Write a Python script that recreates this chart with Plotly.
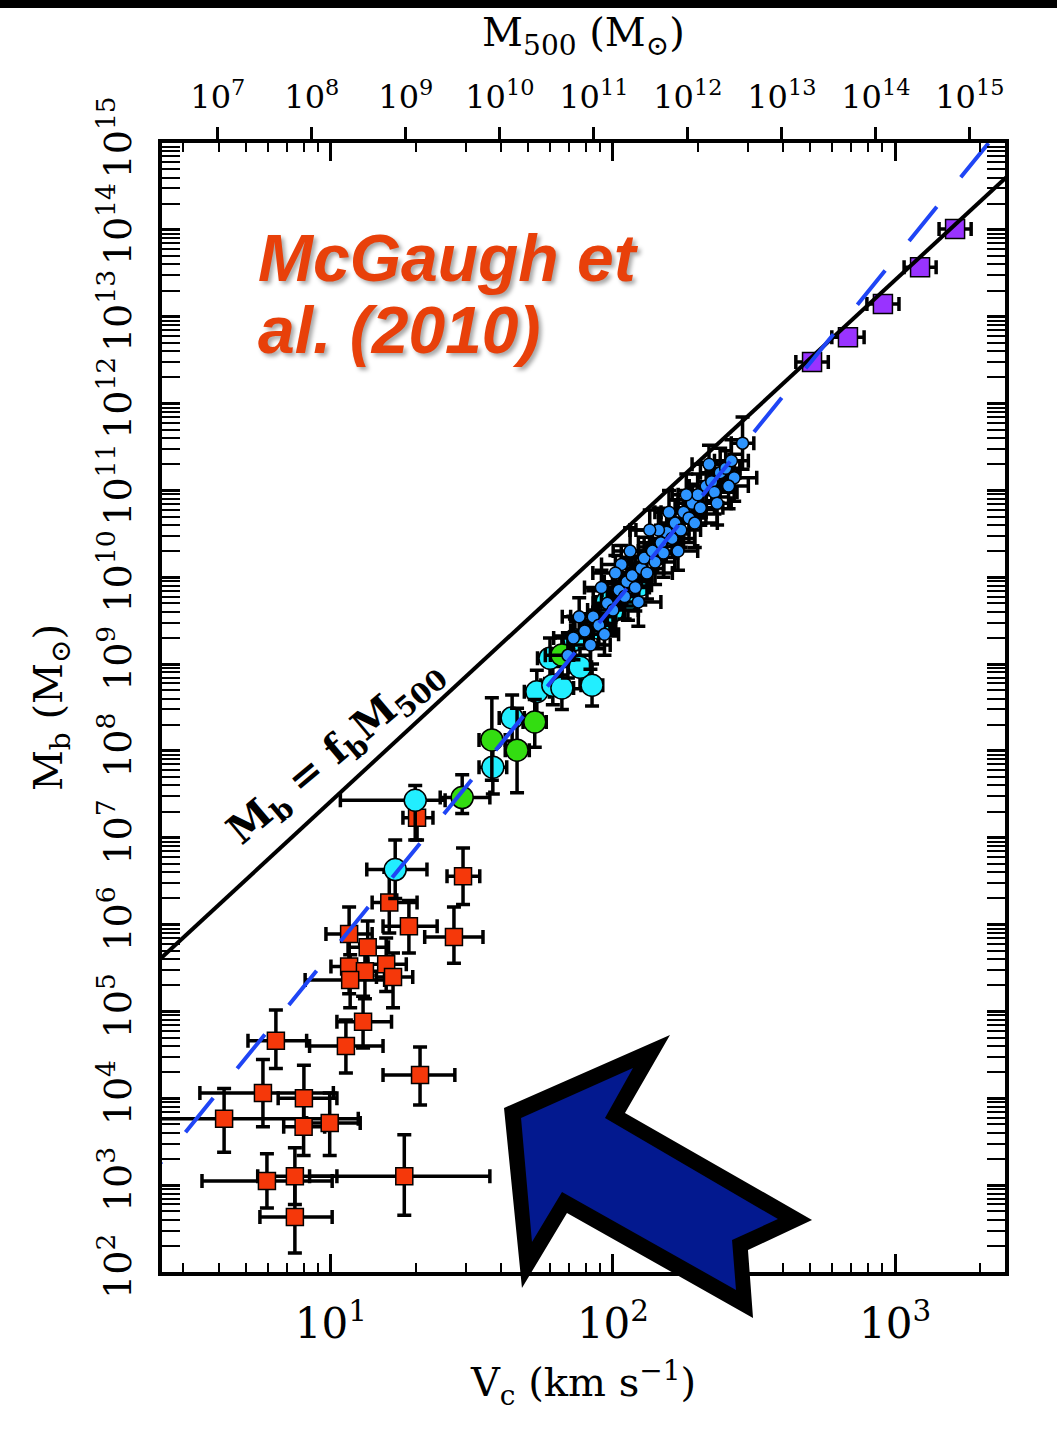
import plotly.graph_objects as go

# ---------------------------------------------------------------------------
# Baryonic mass vs. circular velocity (McGaugh et al. 2010)
# ---------------------------------------------------------------------------

# Model lines
FB = 0.17            # cosmic baryon fraction
M500_NORM = 1.55e5   # M500 = M500_NORM * Vc^3   (Msun, km/s)
BTFR_NORM = 47.0     # Mb = BTFR_NORM * Vc^4
LINE_V = [2.0, 3000.0]

# Dwarf spheroidals (red squares)
dsph_v = [20.2, 29.4, 16.1, 18.9, 27.3, 11.6, 13.5, 11.6, 13.2, 15.7, 16.6, 11.7, 13.0,
          6.38, 11.3, 20.7, 5.74, 8.02, 4.18, 8.0, 9.9, 5.93, 7.45, 18.2, 7.45]
dsph_v_lo = [18.0, 25.8, 14.0, 15.3, 21.5, 9.6, 11.5, 10.0, 11.5, 13.5, 14.5, 8.1, 10.5,
             5.08, 8.4, 15.3, 3.43, 6.5, 2.0, 6.8, 8.2, 3.49, 5.5, 8.4, 5.6]
dsph_v_hi = [23.0, 33.7, 20.2, 23.8, 34.6, 14.0, 16.0, 13.5, 15.5, 18.5, 19.5, 15.5, 16.4,
             8.2, 15.3, 27.5, 10.2, 10.5, 12.5, 9.5, 12.7, 10.1, 10.5, 36.6, 10.1]
dsph_m = [1.7e7, 3.6e6, 1.8e6, 9.6e5, 7.2e5, 7.8e5, 5.5e5, 3.3e5, 2.9e5, 3.5e5, 2.5e5, 2.3e5,
          7.6e4, 4.6e4, 4.0e4, 1.85e4, 1.15e4, 1.0e4, 5.8e3, 4.7e3, 5.2e3, 1.12e3, 1.27e3,
          1.27e3, 430]
dsph_m_lo = [9.4e6, 1.7e6, 8.0e5, 4.7e5, 3.6e5, 3.8e5, 2.6e5, 1.6e5, 1.4e5, 1.7e5, 1.1e5,
             1.1e5, 3.8e4, 2.2e4, 1.95e4, 8.4e3, 4.7e3, 5.0e3, 2.4e3, 2.2e3, 2.2e3, 545, 600,
             450, 166]
dsph_m_hi = [3.0e7, 7.6e6, 4.0e6, 1.9e6, 1.6e6, 1.6e6, 1.1e6, 6.5e5, 6.0e5, 7.0e5, 4.7e5,
             4.5e5, 1.5e5, 1.04e5, 8.0e4, 3.9e4, 2.8e4, 2.4e4, 1.3e4, 1.0e4, 1.15e4, 2.3e3,
             2.7e3, 3.8e3, 1.2e3]

# Gas-rich disks (cyan circles)
gas_v = [19.9, 16.9, 37.5, 43.9, 53.7, 61.2, 65.9, 84.3, 59.8, 76.4, 95.3, 73.3, 88.5,
         99.1, 113.0, 125.0]
gas_v_lo = [10.8, 13.4, 33.5, 39.5, 48.5, 55.5, 60.0, 77.0, 54.0, 69.5, 87.0, 66.5, 80.5,
            90.0, 103.0, 114.0]
gas_v_hi = [25.4, 21.9, 42.0, 48.5, 59.5, 67.5, 72.5, 92.0, 66.0, 84.0, 104.0, 80.5, 97.0,
            109.0, 124.0, 137.0]
gas_m = [2.7e7, 4.3e6, 6.5e7, 2.4e8, 4.8e8, 5.7e8, 5.3e8, 5.7e8, 1.17e9, 9.2e8, 5.2e9,
         1.9e9, 2.6e9, 4.0e9, 5.5e9, 8.1e9]
gas_m_lo = [9.4e6, 2.0e6, 3.2e7, 1.3e8, 2.7e8, 3.4e8, 3.0e8, 3.3e8, 6.8e8, 5.2e8, 3.0e9,
            1.1e9, 1.5e9, 2.3e9, 3.2e9, 4.8e9]
gas_m_hi = [4.0e7, 9.4e6, 1.2e8, 4.4e8, 8.5e8, 9.8e8, 9.4e8, 1.0e9, 2.0e9, 1.6e9, 8.9e9,
            3.3e9, 4.5e9, 6.9e9, 9.5e9, 1.4e10]

# Gas-rich disks, second sample (green circles)
grn_v = [29.2, 37.2, 52.8, 45.7, 65.9]
grn_v_lo = [24.4, 33.5, 48.0, 41.5, 60.0]
grn_v_hi = [36.6, 41.5, 58.0, 50.5, 72.5]
grn_m = [2.9e7, 1.34e8, 2.15e8, 1.02e8, 1.27e9]
grn_m_lo = [1.9e7, 4.6e7, 1.1e8, 3.3e7, 7.5e8]
grn_m_hi = [5.3e7, 4.1e8, 3.9e8, 3.1e8, 2.1e9]

# Star-dominated spirals (blue circles); uncertainties in dex
star_v = [72.4, 79.4, 85.1, 89.1, 95.5, 100.0, 105.0, 110.0, 112.0, 117.0, 120.0, 126.0,
          129.0, 132.0, 138.0, 141.0, 148.0, 151.0, 155.0, 162.0, 166.0, 174.0, 178.0,
          186.0, 191.0, 200.0, 204.0, 214.0, 224.0, 229.0, 240.0, 251.0, 263.0, 269.0,
          288.0, 107.0, 145.0, 91.0, 182.0, 123.0, 170.0, 234.0,
          69.2, 75.9, 83.2, 93.3, 102.0, 115.0, 135.0, 158.0, 195.0, 219.0, 257.0]
star_m = [2.0e9, 2.4e9, 3.5e9, 2.8e9, 5.0e9, 4.2e9, 7.1e9, 6.0e9, 8.9e9, 1.05e10, 7.6e9,
          1.26e10, 1.66e10, 1.12e10, 2.0e10, 1.5e10, 2.5e10, 1.9e10, 3.3e10, 2.8e10, 4.2e10,
          3.5e10, 5.6e10, 4.8e10, 7.1e10, 8.9e10, 6.3e10, 1.12e11, 1.26e11, 9.5e10, 1.6e11,
          1.8e11, 2.2e11, 1.4e11, 3.5e11, 1.4e10, 3.5e10, 7.6e9, 8.9e10, 5.2e9, 2.0e10,
          7.1e10,
          1.26e9, 3.5e9, 1.66e9, 2.2e9, 1.12e10, 2.0e10, 3.5e10, 5.6e10, 4.2e10, 2.0e11,
          1.12e11]
star_v_dex = [0.07, 0.05, 0.08, 0.06, 0.05, 0.09, 0.06, 0.05, 0.08, 0.07, 0.05, 0.08, 0.06,
              0.09, 0.05, 0.07, 0.08, 0.05, 0.06, 0.08, 0.05, 0.07, 0.08, 0.06, 0.05, 0.07,
              0.08, 0.06, 0.05, 0.08, 0.07, 0.05, 0.06, 0.08, 0.04, 0.07, 0.08, 0.06, 0.05,
              0.08, 0.07, 0.05,
              0.08, 0.06, 0.07, 0.05, 0.08, 0.06, 0.07, 0.05, 0.08, 0.06, 0.07]
star_m_dex = [0.25, 0.2, 0.3, 0.22, 0.24, 0.3, 0.2, 0.26, 0.28, 0.22, 0.27, 0.2, 0.24,
              0.3, 0.22, 0.26, 0.2, 0.28, 0.24, 0.22, 0.27, 0.2, 0.25, 0.28, 0.22, 0.24,
              0.2, 0.27, 0.22, 0.25, 0.28, 0.2, 0.24, 0.27, 0.3, 0.22, 0.25, 0.2, 0.24,
              0.28, 0.22, 0.25,
              0.26, 0.22, 0.28, 0.24, 0.2, 0.27, 0.23, 0.25, 0.28, 0.22, 0.26]

# Galaxy clusters (purple squares)
clus_v = [508.0, 681.0, 906.0, 1227.0, 1633.0]
clus_v_lo = [445.0, 597.0, 795.0, 1077.0, 1433.0]
clus_v_hi = [580.0, 777.0, 1033.0, 1399.0, 1862.0]
clus_m = [3.0e12, 5.8e12, 1.4e13, 3.7e13, 1.02e14]

# Tick labels
x_tickvals = [10, 100, 1000]
x_ticktext = ["10<sup>1</sup>", "10<sup>2</sup>", "10<sup>3</sup>"]
y_exps = list(range(2, 16))
top_exps = list(range(7, 16))

# ---------------------------------------------------------------------------
SERIF = "DejaVu Serif"
W, H = 1057, 1430
ML, MR, MT, MB = 162, 52, 143, 158


def minor_vals(lo_exp, hi_exp):
    return [k * 10 ** e for e in range(lo_exp, hi_exp + 1) for k in range(2, 10)]


def err_bars(center, lo, hi):
    plus = [h - c for c, h in zip(center, hi)]
    minus = [c - l for c, l in zip(center, lo)]
    return dict(type="data", symmetric=False, array=plus, arrayminus=minus,
                color="black", thickness=3.5, width=7)


def points(x, xlo, xhi, y, ylo, yhi, color, symbol, size, name):
    tr = dict(x=x, y=y, mode="markers", name=name, showlegend=False,
              marker=dict(color=color, symbol=symbol, size=size,
                          line=dict(color="black", width=1.5)),
              error_x=err_bars(x, xlo, xhi))
    if ylo is not None:
        tr["error_y"] = err_bars(y, ylo, yhi)
    return go.Scatter(**tr)


fig = go.Figure()

fig.add_trace(points(dsph_v, dsph_v_lo, dsph_v_hi, dsph_m, dsph_m_lo, dsph_m_hi,
                     "#F5380A", "square", 17, "dSph"))
fig.add_trace(points(gas_v, gas_v_lo, gas_v_hi, gas_m, gas_m_lo, gas_m_hi,
                     "#22EEFF", "circle", 22, "gas rich"))
fig.add_trace(points(grn_v, grn_v_lo, grn_v_hi, grn_m, grn_m_lo, grn_m_hi,
                     "#33DD11", "circle", 22, "gas rich (2)"))

star_v_lo = [v / 10 ** d for v, d in zip(star_v, star_v_dex)]
star_v_hi = [v * 10 ** d for v, d in zip(star_v, star_v_dex)]
star_m_lo = [m / 10 ** d for m, d in zip(star_m, star_m_dex)]
star_m_hi = [m * 10 ** d for m, d in zip(star_m, star_m_dex)]
fig.add_trace(points(star_v, star_v_lo, star_v_hi, star_m, star_m_lo, star_m_hi,
                     "#2E95FF", "circle", 12, "star dominated"))

fig.add_trace(points(clus_v, clus_v_lo, clus_v_hi, clus_m, None, None,
                     "#9933FF", "square", 19, "clusters"))

# Mb = fb * M500 and the baryonic Tully-Fisher relation
fb_line = [FB * M500_NORM * v ** 3 for v in LINE_V]
btfr_line = [BTFR_NORM * v ** 4 for v in LINE_V]
fig.add_trace(go.Scatter(x=LINE_V, y=fb_line, mode="lines", showlegend=False,
                         line=dict(color="black", width=4), hoverinfo="skip"))
fig.add_trace(go.Scatter(x=LINE_V, y=btfr_line, mode="lines", showlegend=False,
                         line=dict(color="#1F45F5", width=4, dash="44px,38px"),
                         hoverinfo="skip"))

# invisible anchor for the M500 axis
fig.add_trace(go.Scatter(x=[1e10], y=[1e8], xaxis="x2", mode="markers",
                         marker=dict(opacity=0), showlegend=False, hoverinfo="skip"))

lv_lo, lv_hi = 0.401, 3.390
log_norm = 5.204

axis_common = dict(
    type="log", showgrid=False, zeroline=False,
    showline=True, linecolor="black", linewidth=4,
    ticks="inside", ticklen=18, tickwidth=3, tickcolor="black",
)

fig.update_layout(
    width=W, height=H,
    margin=dict(l=ML, r=MR, t=MT, b=MB, pad=0),
    paper_bgcolor="white", plot_bgcolor="white",
    showlegend=False,
    xaxis=dict(
        **axis_common,
        range=[lv_lo, lv_hi], mirror="allticks",
        tickmode="array", tickvals=x_tickvals, ticktext=x_ticktext,
        tickfont=dict(family=SERIF, size=42, color="black"),
        ticklabelstandoff=12,
        minor=dict(ticks="inside", ticklen=9, tickwidth=2, tickcolor="black",
                   tickvals=minor_vals(0, 3)),
        title=dict(text="V<sub>c</sub> (km s<sup>−1</sup>)",
                   font=dict(family=SERIF, size=40, color="black"), standoff=22),
    ),
    xaxis2=dict(
        type="log", overlaying="x", side="top", anchor="y",
        range=[log_norm + 3 * lv_lo, log_norm + 3 * lv_hi],
        showgrid=False, zeroline=False, showline=False,
        ticks="outside", ticklen=15, tickwidth=3, tickcolor="black",
        tickmode="array", tickvals=[10 ** e for e in top_exps],
        ticktext=[f"10<sup>{e}</sup>" for e in top_exps],
        tickfont=dict(family=SERIF, size=32, color="black"),
        ticklabelstandoff=6,
        title=dict(text="M<sub>500</sub> (M<sub>⊙</sub>)",
                   font=dict(family=SERIF, size=40, color="black"), standoff=14),
    ),
    yaxis=dict(
        **axis_common,
        range=[2, 15], mirror="allticks",
        tickmode="array", tickvals=[10 ** e for e in y_exps],
        ticktext=[f"10<sup>{e}</sup>" for e in y_exps],
        tickfont=dict(family=SERIF, size=38, color="black"),
        tickangle=-90, ticklabelstandoff=12,
        minor=dict(ticks="inside", ticklen=9, tickwidth=2, tickcolor="black",
                   tickvals=minor_vals(2, 14)),
        title=dict(text="M<sub>b</sub> (M<sub>⊙</sub>)",
                   font=dict(family=SERIF, size=40, color="black"), standoff=16),
    ),
)


def px(x):
    return (x - ML) / (W - ML - MR)


def py(y):
    return (H - MB - y) / (H - MT - MB)


def poly(pts):
    return "M " + " L ".join(f"{px(x):.4f},{py(y):.4f}" for x, y in pts) + " Z"


arrow_outer = [(504, 1108), (522, 1288), (567, 1213), (753, 1318), (748, 1250),
               (812, 1220), (625, 1113), (670, 1035)]
arrow_inner = [(521, 1118), (532, 1242), (562, 1192), (736, 1290), (732, 1240),
               (778, 1219), (605, 1118), (633, 1068)]

fig.add_shape(type="rect", xref="paper", yref="paper", x0=px(0), x1=px(W),
              y0=py(8), y1=py(0), fillcolor="black", line_width=0, layer="above")
fig.add_shape(type="path", xref="paper", yref="paper", path=poly(arrow_outer),
              fillcolor="black", line_width=0, layer="above")
fig.add_shape(type="path", xref="paper", yref="paper", path=poly(arrow_inner),
              fillcolor="#03198F", line_width=0, layer="above")

cite_font = dict(family="Liberation Sans, Arial", size=66, color="#E8400A",
                 weight="bold", style="italic", shadow="3px 3px 4px rgba(0,0,0,0.35)")
fig.add_annotation(text="McGaugh et", xref="paper", yref="paper", x=px(256), y=py(258),
                   xanchor="left", yanchor="middle", showarrow=False, font=cite_font)
fig.add_annotation(text="al. (2010)", xref="paper", yref="paper", x=px(256), y=py(330),
                   xanchor="left", yanchor="middle", showarrow=False, font=cite_font)

fig.add_annotation(text="M<sub>b</sub> = f<sub>b</sub>M<sub>500</sub>",
                   xref="paper", yref="paper", x=px(335), y=py(752),
                   xanchor="center", yanchor="middle", textangle=-40, showarrow=False,
                   font=dict(family=SERIF, size=40, color="black", weight="bold"))

fig.write_html("out.html")
